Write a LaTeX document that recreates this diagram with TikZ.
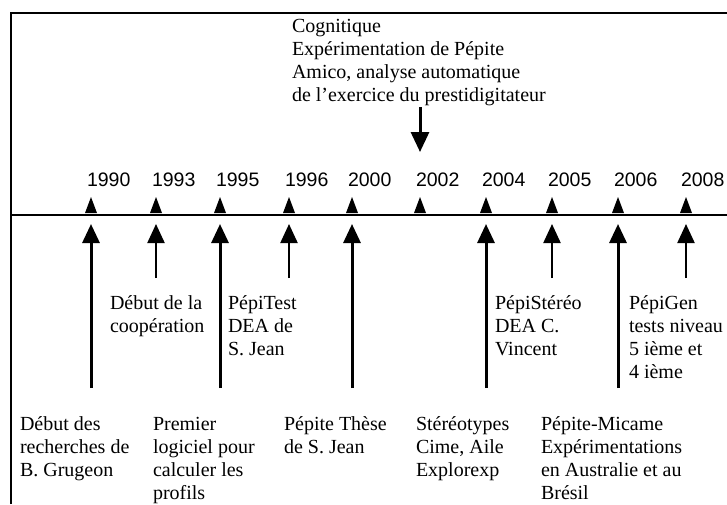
\documentclass[tikz,border=0pt]{standalone}
\usepackage{fontspec}
\setmainfont{Liberation Serif}
\newfontfamily\yearfont{Liberation Sans}
\usetikzlibrary{arrows.meta}
\newcommand\txtblk[1]{\parbox[t]{320pt}{\raggedright #1}}

\begin{document}
\begin{tikzpicture}[x=1pt,y=-1pt,
  every node/.style={inner sep=0pt, outer sep=0pt, anchor=base west},
  txt/.style={font=\fontsize{20}{23.3}\selectfont},
  yr/.style={font=\yearfont\fontsize{19.5}{21}\selectfont},
  longarr/.style={line width=3pt, -{Triangle[width=17pt,length=19pt]}},
  shortarr/.style={line width=2.2pt, -{Triangle[width=17pt,length=19pt]}},
  bigarr/.style={line width=3pt, -{Triangle[width=18pt,length=20pt]}}]
\useasboundingbox (0,0) rectangle (727,504);

% frame and time axis
\draw[line width=1.5pt] (11,504) -- (11,13) -- (727,13);
\draw[line width=1.5pt] (11,215) -- (727,215);

% years
\node[yr] (y1990) at (87,186) {1990};
\node[yr] (y1993) at (152,186) {1993};
\node[yr] (y1995) at (216,186) {1995};
\node[yr] (y1996) at (285,186) {1996};
\node[yr] (y2000) at (348,186) {2000};
\node[yr] (y2002) at (416,186) {2002};
\node[yr] (y2004) at (482,186) {2004};
\node[yr] (y2005) at (548,186) {2005};
\node[yr] (y2006) at (614,186) {2006};
\node[yr] (y2008) at (681,186) {2008};

% small marks above the axis
\fill (85,213) -- (91,197) -- (97,213) -- cycle;
\fill (150,213) -- (156,197) -- (162,213) -- cycle;
\fill (214,213) -- (220,197) -- (226,213) -- cycle;
\fill (283,213) -- (289,197) -- (295,213) -- cycle;
\fill (346,213) -- (352,197) -- (358,213) -- cycle;
\fill (414,213) -- (420,197) -- (426,213) -- cycle;
\fill (480,213) -- (486,197) -- (492,213) -- cycle;
\fill (546,213) -- (552,197) -- (558,213) -- cycle;
\fill (612,213) -- (618,197) -- (624,213) -- cycle;
\fill (680,213) -- (686,197) -- (692,213) -- cycle;

% event above the axis
\node[txt] (cogn) at (292,32) {\txtblk{Cognitique\\Expérimentation de Pépite\\Amico, analyse automatique\\de l'exercice du prestidigitateur}};
\coordinate (c2002) at (420,107);
\coordinate (t2002) at (420,152);
\draw[bigarr] (c2002) -- (t2002);

% events below the axis, short arrows
\node[txt] (coop) at (110,309) {\txtblk{Début de la\\coopération}};
\node[txt] (ptest) at (228,309) {\txtblk{PépiTest\\DEA de\\S. Jean}};
\node[txt] (pster) at (495,309) {\txtblk{PépiStéréo\\DEA C.\\Vincent}};
\node[txt] (pgen) at (629,309) {\txtblk{PépiGen\\tests niveau\\5 ième et\\4 ième}};

% events below the axis, long arrows
\node[txt] (grug) at (20,430) {\txtblk{Début des\\recherches de\\B. Grugeon}};
\node[txt] (logi) at (153,430) {\txtblk{Premier\\logiciel pour\\calculer les\\profils}};
\node[txt] (these) at (284,430) {\txtblk{Pépite Thèse\\de S. Jean}};
\node[txt] (stereo) at (416,430) {\txtblk{Stéréotypes\\Cime, Aile\\Explorexp}};
\node[txt] (micame) at (541,430) {\txtblk{Pépite-Micame\\Expérimentations\\en Australie et au\\Brésil}};

\coordinate (s1993) at (156,278);
\coordinate (s1996) at (289,278);
\coordinate (s2005) at (552,278);
\coordinate (s2008) at (686,278);
\coordinate (s1990) at (91,388);
\coordinate (s1995) at (220,388);
\coordinate (s2000) at (352,388);
\coordinate (s2004) at (486,388);
\coordinate (s2006) at (618,388);

\coordinate (t1990) at (91,224);
\coordinate (t1993) at (156,224);
\coordinate (t1995) at (220,224);
\coordinate (t1996) at (289,224);
\coordinate (t2000) at (352,224);
\coordinate (t2004) at (486,224);
\coordinate (t2005) at (552,224);
\coordinate (t2006) at (618,224);
\coordinate (t2008) at (686,224);

\draw[shortarr] (s1993) -- (t1993);
\draw[shortarr] (s1996) -- (t1996);
\draw[shortarr] (s2005) -- (t2005);
\draw[shortarr] (s2008) -- (t2008);
\draw[longarr] (s1990) -- (t1990);
\draw[longarr] (s1995) -- (t1995);
\draw[longarr] (s2000) -- (t2000);
\draw[longarr] (s2004) -- (t2004);
\draw[longarr] (s2006) -- (t2006);
\end{tikzpicture}
\end{document}
